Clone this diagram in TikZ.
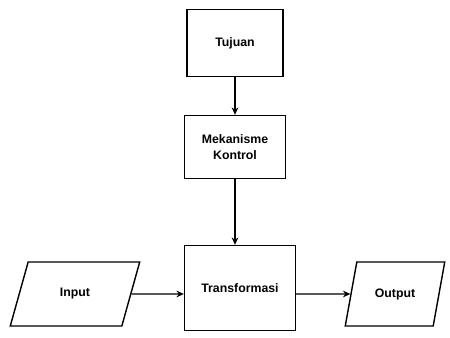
\documentclass[tikz,border=0pt]{standalone}
\usepackage{fontspec}
\setmainfont{Liberation Sans}
\usetikzlibrary{arrows.meta,positioning,shapes.geometric}

\begin{document}
\begin{tikzpicture}[
  box/.style = {rectangle, draw=black, line width=1.2pt, align=center, font=\bfseries\fontsize{10.5}{13}\selectfont},
  io/.style = {trapezium, trapezium left angle=69, trapezium right angle=111, trapezium stretches=true, draw=black, line width=1.2pt, font=\bfseries\fontsize{10.5}{13}\selectfont},
  link/.style = {-{Stealth[length=2.2mm,width=2mm]}, line width=0.9pt}
]
  \useasboundingbox (0,0) rectangle (13.5,10.14);

  \node (tujuan) [box, minimum width=2.88cm, minimum height=2.01cm] at (7.05,8.85) {Tujuan};
  \node (kontrol) [box, minimum width=3.03cm, minimum height=1.89cm] at (7.05,5.73) {Mekanisme\\Kontrol};
  \node (trans) [box, minimum width=3.33cm, minimum height=2.55cm] at (7.2,1.5) {Transformasi};

  \node (input) [io, minimum width=3.9cm, minimum height=1.92cm] at (2.25,1.32) {Input};
  \node (output) [io, minimum width=3.0cm, minimum height=1.92cm] at (11.85,1.32) {Output};

  \path [link]
  (tujuan) edge node {} (kontrol)
  (kontrol) edge node {} (kontrol |- trans.north)
  (input) edge node {} (input -| trans.west)
  (trans.east |- output) edge node {} (output);
\end{tikzpicture}
\end{document}
